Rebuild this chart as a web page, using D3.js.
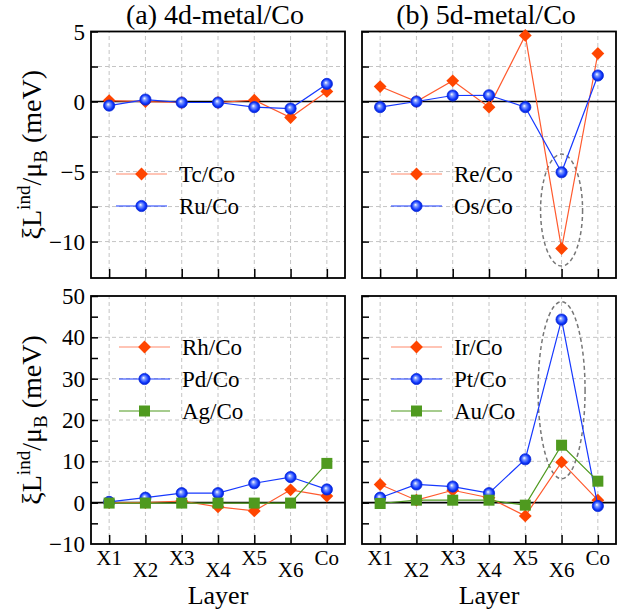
<!DOCTYPE html>
<html>
<head>
<meta charset="utf-8">
<script src="https://cdn.jsdelivr.net/npm/d3@7"></script>
</head>
<body style="margin:0;background:#fff">
<div id="chart"></div>
<script>
let w = 629;
let h = 612;
let serif = "Liberation Serif";

// layer names along x
let layers = ["X1", "X2", "X3", "X4", "X5", "X6", "Co"];

// (a) 4d-metal/Co, top
let tc = [0.07, 0.0, -0.07, -0.07, 0.1, -1.14, 0.72];
let ru = [-0.29, 0.14, -0.07, -0.07, -0.4, -0.5, 1.26];
// (b) 5d-metal/Co, top
let re = [1.07, 0.0, 1.48, -0.4, 4.72, -10.5, 3.43];
let os = [-0.4, 0.0, 0.43, 0.45, -0.4, -5.05, 1.86];
// (a) bottom
let rh = [0.0, 0.0, 0.4, -1.0, -2.0, 3.1, 1.6];
let pd = [0.2, 1.2, 2.3, 2.3, 4.7, 6.2, 3.2];
let ag = [-0.1, -0.1, -0.1, -0.1, -0.1, -0.1, 9.5];
// (b) bottom
let ir = [4.4, 0.6, 3.0, 1.2, -3.2, 9.8, 0.6];
let pt = [1.2, 4.4, 3.9, 2.3, 10.5, 44.3, -0.8];
let au = [-0.2, 0.6, 0.6, 0.6, -0.6, 13.9, 5.2];

let topTicks = [-10, -7.5, -5, -2.5, 0, 2.5, 5];
let topLabels = [-10, -5, 0, 5];
let botTicks = [-5, 0, 5, 10, 15, 20, 25, 30, 35, 40, 45, 50];
let botLabels = [-10, 0, 10, 20, 30, 40, 50];

let red = "#ff4500", blue = "#1638ff", green = "#4f9a1f";

let viz = d3.select("#chart")
  .append("svg")
  .attr("width", w)
  .attr("height", h)
  .attr("font-family", serif);

let defs = viz.append("defs");
let grad = defs.append("radialGradient")
  .attr("id", "ball")
  .attr("cx", "50%").attr("cy", "50%").attr("r", "50%")
  .attr("fx", "40%").attr("fy", "38%");
grad.append("stop").attr("offset", "0%").attr("stop-color", "#ffffff");
grad.append("stop").attr("offset", "30%").attr("stop-color", "#7f9bff");
grad.append("stop").attr("offset", "75%").attr("stop-color", "#1038ff");
grad.append("stop").attr("offset", "100%").attr("stop-color", "#0020c8");

let panels = [
  {xr: [91, 345], yr: [278, 31.5], dom: [-12.6, 5], ticks: topTicks, labels: topLabels, grid: [-10, -7.5, -5, -2.5, 2.5],
   title: "(a) 4d-metal/Co", leg: {x: 25, y: 174},
   series: [{name: "Tc/Co", v: tc, m: "diamond"}, {name: "Ru/Co", v: ru, m: "circle"}]},
  {xr: [362, 616], yr: [278, 31.5], dom: [-12.6, 5], ticks: topTicks, labels: [], grid: [-10, -7.5, -5, -2.5, 2.5],
   title: "(b) 5d-metal/Co", leg: {x: 29, y: 174},
   series: [{name: "Re/Co", v: re, m: "diamond"}, {name: "Os/Co", v: os, m: "circle"}],
   ellipse: {cy: -7.75, rx: 21, ry: 56}},
  {xr: [91, 345], yr: [544, 296], dom: [-10, 50], ticks: botTicks, labels: botLabels, grid: [10, 20, 30, 40],
   leg: {x: 28, y: 347}, xlab: true,
   series: [{name: "Rh/Co", v: rh, m: "diamond"}, {name: "Pd/Co", v: pd, m: "circle"}, {name: "Ag/Co", v: ag, m: "square"}]},
  {xr: [362, 616], yr: [544, 296], dom: [-10, 50], ticks: botTicks, labels: [], grid: [10, 20, 30, 40],
   leg: {x: 29, y: 347}, xlab: true,
   series: [{name: "Ir/Co", v: ir, m: "diamond"}, {name: "Pt/Co", v: pt, m: "circle"}, {name: "Au/Co", v: au, m: "square"}],
   ellipse: {cy: 27.2, rx: 23.5, ry: 88.5}}
];

let styles = {
  diamond: {line: "#ff5a2e"},
  circle: {line: blue},
  square: {line: green}
};

function drawMarker(g, type, x, y) {
  if (type == "diamond") {
    g.append("path")
      .attr("d", d3.symbol(d3.symbolSquare, 82)())
      .attr("transform", "translate(" + x + "," + y + ") rotate(45)")
      .attr("fill", red);
  } else if (type == "circle") {
    g.append("circle")
      .attr("cx", x).attr("cy", y).attr("r", 5.6)
      .attr("fill", "url(#ball)")
      .attr("stroke", "#0a2ae0").attr("stroke-width", 0.8);
  } else {
    g.append("path")
      .attr("d", d3.symbol(d3.symbolSquare, 121)())
      .attr("transform", "translate(" + x + "," + y + ")")
      .attr("fill", green);
  }
}

panels.forEach(function(p, pi) {
  let xScale = d3.scaleLinear().domain([0.5, 7.5]).range(p.xr);
  let yScale = d3.scaleLinear().domain(p.dom).range(p.yr);
  let g = viz.append("g").attr("font-family", serif);

  // dashed grid
  g.selectAll(".vgrid").data(d3.range(1, 8)).enter()
    .append("line")
    .attr("x1", d => xScale(d)).attr("x2", d => xScale(d))
    .attr("y1", p.yr[0]).attr("y2", p.yr[1])
    .attr("stroke", "#c4c4c4").attr("stroke-dasharray", "4,3").attr("stroke-width", 1);
  g.selectAll(".hgrid").data(p.grid).enter()
    .append("line")
    .attr("x1", p.xr[0]).attr("x2", p.xr[1])
    .attr("y1", d => yScale(d)).attr("y2", d => yScale(d))
    .attr("stroke", "#c4c4c4").attr("stroke-dasharray", "4,3").attr("stroke-width", 1);

  // zero line
  g.append("line")
    .attr("x1", p.xr[0]).attr("x2", p.xr[1])
    .attr("y1", yScale(0)).attr("y2", yScale(0))
    .attr("stroke", "#000").attr("stroke-width", 1.6);

  // axes with inward ticks
  let yAxis = d3.axisLeft(yScale).tickValues(p.ticks).tickSize(-7).tickFormat("");
  g.append("g").attr("transform", "translate(" + p.xr[0] + ",0)").call(yAxis)
    .call(a => a.select(".domain").remove())
    .selectAll("line").attr("stroke", "#000").attr("stroke-width", 1.5);

  let xAxis = d3.axisBottom(xScale).tickValues(d3.range(1, 8)).tickSize(-9).tickFormat("");
  g.append("g").attr("transform", "translate(0," + p.yr[0] + ")").call(xAxis)
    .call(a => a.select(".domain").remove())
    .selectAll("line").attr("stroke", "#000").attr("stroke-width", 1.5);

  // y labels
  g.selectAll(".ylab").data(p.labels).enter()
    .append("text")
    .attr("x", p.xr[0] - 6)
    .attr("y", d => yScale(d))
    .attr("dy", "0.35em")
    .attr("text-anchor", "end")
    .attr("font-size", 23)
    .attr("font-family", serif)
    .text(d => d3.format("")(d));

  // frame
  g.append("rect")
    .attr("x", p.xr[0]).attr("y", p.yr[1])
    .attr("width", p.xr[1] - p.xr[0]).attr("height", p.yr[0] - p.yr[1])
    .attr("fill", "none").attr("stroke", "#000").attr("stroke-width", 1.8);

  // ellipse
  if (p.ellipse) {
    g.append("ellipse")
      .attr("cx", xScale(6)).attr("cy", yScale(p.ellipse.cy))
      .attr("rx", p.ellipse.rx).attr("ry", p.ellipse.ry)
      .attr("fill", "none").attr("stroke", "#777")
      .attr("stroke-width", 1.5).attr("stroke-dasharray", "4,3");
  }

  // series
  let line = d3.line().x((d, i) => xScale(i + 1)).y(d => yScale(d));
  p.series.forEach(function(s, si) {
    let st = styles[s.m];
    g.append("path")
      .attr("d", line(s.v))
      .attr("fill", "none")
      .attr("stroke", st.line)
      .attr("stroke-width", 1.2);
    s.v.forEach(function(v, i) {
      drawMarker(g, s.m, xScale(i + 1), yScale(v));
    });

    // legend
    let ly = p.leg.y + si * 32;
    let lx = p.xr[0] + p.leg.x;
    g.append("line")
      .attr("x1", lx).attr("x2", lx + 51)
      .attr("y1", ly).attr("y2", ly)
      .attr("stroke", st.line).attr("stroke-width", 1.2)
      .attr("opacity", s.m == "diamond" ? 0.7 : 1);
    drawMarker(g, s.m, lx + 25.5, ly);
    g.append("text")
      .attr("x", lx + 63).attr("y", ly)
      .attr("dy", "0.35em")
      .attr("font-size", 23)
      .attr("font-family", serif)
      .text(s.name);
  });

  // title
  if (p.title) {
    g.append("text")
      .attr("x", (p.xr[0] + p.xr[1]) / 2 - 3).attr("y", 24)
      .attr("text-anchor", "middle")
      .attr("font-size", 28)
      .attr("font-family", serif)
      .text(p.title);
  }

  // x labels, staggered
  if (p.xlab) {
    g.selectAll(".xl").data(layers).enter()
      .append("text")
      .attr("x", (d, i) => xScale(i + 1))
      .attr("y", (d, i) => i % 2 == 0 ? 565 : 577)
      .attr("text-anchor", "middle")
      .attr("font-size", 21)
      .attr("font-family", serif)
      .text(d => d);
    g.append("text")
      .attr("x", (p.xr[0] + p.xr[1]) / 2).attr("y", 604)
      .attr("text-anchor", "middle")
      .attr("font-size", 26)
      .attr("font-family", serif)
      .text("Layer");
  }

  // y title
  if (pi % 2 == 0) {
    let cy = (p.yr[0] + p.yr[1]) / 2;
    let t = g.append("text")
      .attr("transform", "translate(41," + cy + ") rotate(-90)")
      .attr("text-anchor", "middle")
      .attr("font-size", 28)
      .attr("font-family", serif);
    t.append("tspan").text("ξL");
    t.append("tspan").attr("dy", -11).attr("font-size", 19).text("ind");
    t.append("tspan").attr("dy", 11).text("/μ");
    t.append("tspan").attr("dy", 6).attr("font-size", 19).text("B");
    t.append("tspan").attr("dy", -6).text(" (meV)");
  }
});
</script>
</body>
</html>
